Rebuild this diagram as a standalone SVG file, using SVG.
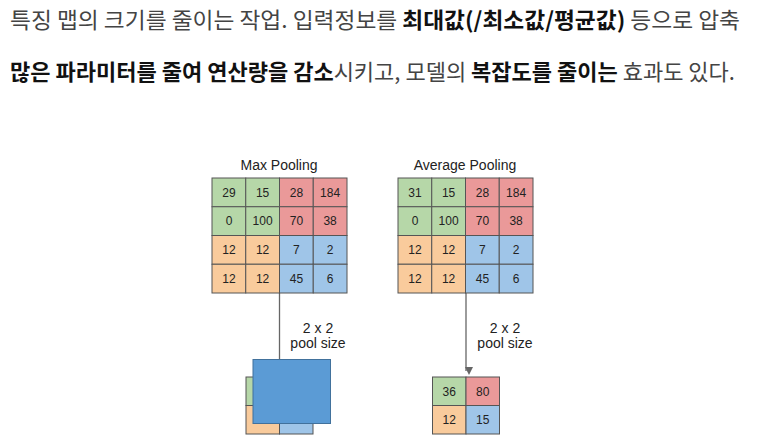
<svg xmlns="http://www.w3.org/2000/svg" width="757" height="444" viewBox="0 0 757 444">
<defs>
<style>
.kr{font-family:"Noto Sans CJK KR","Noto Sans",sans-serif;font-size:22px;fill:#444}
.b{font-weight:bold;fill:#111}
.g{fill:#b6d7a8}.r{fill:#ea9999}.o{fill:#f9cb9c}.u{fill:#9fc5e8}
.cell{stroke:#555;stroke-width:1}
.num{font-family:"Liberation Sans",Arial,sans-serif;font-size:12px;fill:#222;text-anchor:middle}
.ttl{font-family:"Liberation Sans",Arial,sans-serif;font-size:14px;fill:#222;text-anchor:middle}
.conn{stroke:#666;stroke-width:1.3;fill:none}
</style>
<marker id="ah" markerWidth="8" markerHeight="8" refX="4" refY="7" orient="auto" markerUnits="userSpaceOnUse" viewBox="0 0 8 8">
<path d="M0,0 L8,0 L4,8 Z" fill="#666" transform="rotate(-90 4 4)"/>
</marker>
</defs>
<rect width="757" height="444" fill="#fff"/>
<text class="kr" x="10" y="28" textLength="730" lengthAdjust="spacingAndGlyphs">특징 맵의 크기를 줄이는 작업. 입력정보를 <tspan class="b">최대값(/최소값/평균값)</tspan> 등으로 압축</text>
<text class="kr" x="10" y="80" textLength="725" lengthAdjust="spacingAndGlyphs"><tspan class="b">많은 파라미터를 줄여 연산량을 감소</tspan>시키고, 모델의 <tspan class="b">복잡도를 줄이는</tspan> 효과도 있다.</text>

<text class="ttl" x="279" y="170">Max Pooling</text>
<text class="ttl" x="465" y="170">Average Pooling</text>

<g id="connectors">
<line class="conn" x1="279.5" y1="293" x2="279.5" y2="360"/>
<line class="conn" x1="466" y1="293" x2="466" y2="371" marker-end="url(#ah)"/>
</g>

<g id="max-input">
<rect class="cell g" x="212" y="178" width="33.75" height="28.75"/>
<rect class="cell g" x="245.75" y="178" width="33.75" height="28.75"/>
<rect class="cell r" x="279.5" y="178" width="33.75" height="28.75"/>
<rect class="cell r" x="313.25" y="178" width="33.75" height="28.75"/>
<rect class="cell g" x="212" y="206.75" width="33.75" height="28.75"/>
<rect class="cell g" x="245.75" y="206.75" width="33.75" height="28.75"/>
<rect class="cell r" x="279.5" y="206.75" width="33.75" height="28.75"/>
<rect class="cell r" x="313.25" y="206.75" width="33.75" height="28.75"/>
<rect class="cell o" x="212" y="235.5" width="33.75" height="28.75"/>
<rect class="cell o" x="245.75" y="235.5" width="33.75" height="28.75"/>
<rect class="cell u" x="279.5" y="235.5" width="33.75" height="28.75"/>
<rect class="cell u" x="313.25" y="235.5" width="33.75" height="28.75"/>
<rect class="cell o" x="212" y="264.25" width="33.75" height="28.75"/>
<rect class="cell o" x="245.75" y="264.25" width="33.75" height="28.75"/>
<rect class="cell u" x="279.5" y="264.25" width="33.75" height="28.75"/>
<rect class="cell u" x="313.25" y="264.25" width="33.75" height="28.75"/>
<text class="num" x="229" y="196.7">29</text><text class="num" x="262.6" y="196.7">15</text><text class="num" x="296.4" y="196.7">28</text><text class="num" x="330.1" y="196.7">184</text>
<text class="num" x="229" y="225.4">0</text><text class="num" x="262.6" y="225.4">100</text><text class="num" x="296.4" y="225.4">70</text><text class="num" x="330.1" y="225.4">38</text>
<text class="num" x="229" y="254.2">12</text><text class="num" x="262.6" y="254.2">12</text><text class="num" x="296.4" y="254.2">7</text><text class="num" x="330.1" y="254.2">2</text>
<text class="num" x="229" y="282.9">12</text><text class="num" x="262.6" y="282.9">12</text><text class="num" x="296.4" y="282.9">45</text><text class="num" x="330.1" y="282.9">6</text>
</g>

<g id="avg-input">
<rect class="cell g" x="398" y="178" width="33.75" height="28.75"/>
<rect class="cell g" x="431.75" y="178" width="33.75" height="28.75"/>
<rect class="cell r" x="465.5" y="178" width="33.75" height="28.75"/>
<rect class="cell r" x="499.25" y="178" width="33.75" height="28.75"/>
<rect class="cell g" x="398" y="206.75" width="33.75" height="28.75"/>
<rect class="cell g" x="431.75" y="206.75" width="33.75" height="28.75"/>
<rect class="cell r" x="465.5" y="206.75" width="33.75" height="28.75"/>
<rect class="cell r" x="499.25" y="206.75" width="33.75" height="28.75"/>
<rect class="cell o" x="398" y="235.5" width="33.75" height="28.75"/>
<rect class="cell o" x="431.75" y="235.5" width="33.75" height="28.75"/>
<rect class="cell u" x="465.5" y="235.5" width="33.75" height="28.75"/>
<rect class="cell u" x="499.25" y="235.5" width="33.75" height="28.75"/>
<rect class="cell o" x="398" y="264.25" width="33.75" height="28.75"/>
<rect class="cell o" x="431.75" y="264.25" width="33.75" height="28.75"/>
<rect class="cell u" x="465.5" y="264.25" width="33.75" height="28.75"/>
<rect class="cell u" x="499.25" y="264.25" width="33.75" height="28.75"/>
<text class="num" x="415" y="196.7">31</text><text class="num" x="448.6" y="196.7">15</text><text class="num" x="482.4" y="196.7">28</text><text class="num" x="516.1" y="196.7">184</text>
<text class="num" x="415" y="225.4">0</text><text class="num" x="448.6" y="225.4">100</text><text class="num" x="482.4" y="225.4">70</text><text class="num" x="516.1" y="225.4">38</text>
<text class="num" x="415" y="254.2">12</text><text class="num" x="448.6" y="254.2">12</text><text class="num" x="482.4" y="254.2">7</text><text class="num" x="516.1" y="254.2">2</text>
<text class="num" x="415" y="282.9">12</text><text class="num" x="448.6" y="282.9">12</text><text class="num" x="482.4" y="282.9">45</text><text class="num" x="516.1" y="282.9">6</text>
</g>

<g id="max-label">
<text class="ttl" x="318" y="333">2 x 2</text>
<text class="ttl" x="318" y="347.5">pool size</text>
</g>
<g id="avg-label">
<text class="ttl" x="505" y="333">2 x 2</text>
<text class="ttl" x="505" y="347.5">pool size</text>
</g>

<g id="max-output">
<rect class="cell g" x="246" y="377" width="33.5" height="28.5"/>
<rect class="cell r" x="279.5" y="377" width="33.5" height="28.5"/>
<rect class="cell o" x="246" y="405.5" width="33.5" height="28.5"/>
<rect class="cell u" x="279.5" y="405.5" width="33.5" height="28.5"/>
<text class="num" x="262.7" y="424.2">12</text><text class="num" x="296.2" y="424.2">15</text>
</g>

<g id="blue-box">
<rect x="253" y="359.5" width="77.5" height="64" fill="#5b9bd5" stroke="#41719c" stroke-width="1"/>
</g>

<g id="avg-output">
<rect class="cell g" x="432.5" y="377" width="33.5" height="28.5"/>
<rect class="cell r" x="466" y="377" width="33.5" height="28.5"/>
<rect class="cell o" x="432.5" y="405.5" width="33.5" height="28.5"/>
<rect class="cell u" x="466" y="405.5" width="33.5" height="28.5"/>
<text class="num" x="449.2" y="395.7">36</text><text class="num" x="482.7" y="395.7">80</text>
<text class="num" x="449.2" y="424.2">12</text><text class="num" x="482.7" y="424.2">15</text>
</g>
</svg>
